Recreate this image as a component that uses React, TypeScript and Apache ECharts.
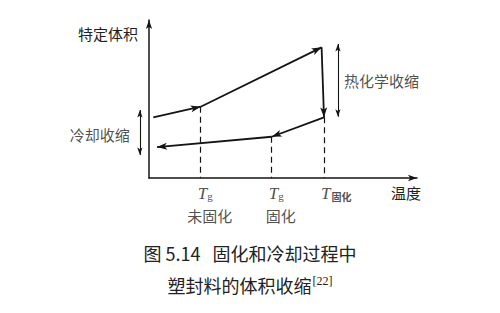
import React, { useEffect, useRef } from "react";
import * as echarts from "echarts";

// Process path (arbitrary units: temperature 0-100, specific volume 0-100)
const temperature = [1.6, 19.3, 64.4, 65.3, 45.8, 3.0];
const specificVolume = [38.4, 45.1, 82.7, 38.4, 26.1, 19.6];

// Transition temperatures (Tg uncured, Tg cured, T cure) and the volume where the dashed guide starts
const transitionTemps = [19.3, 45.8, 65.3];
const transitionVolumes = [45.1, 26.1, 38.4];
const transitionSymbols = ["{T|T}{g|g}", "{T|T}{g|g}", "{T|T}{c|固化}"];
const transitionStates = ["未固化", "固化", ""];

// Shrinkage annotations (double arrows)
const shrinkLabels = ["热化学收缩", "冷却收缩"];
const shrinkX = [70.5, -3.4];
const shrinkTop = [84.8, 43.0];
const shrinkBottom = [38.8, 14.6];
const shrinkLabelY = [62.0, 27.8];

const axisNames = ["温度", "特定体积"];
const captionLine1 = "图 5.14   固化和冷却过程中";
const captionLine2 = "塑封料的体积收缩";
const captionRef = "[22]";

const INK = "#141414";
const TXT = "#222222";
const CJK = "'Noto Sans CJK SC', 'Noto Sans', sans-serif";
const SERIF = "'Liberation Serif', 'DejaVu Serif', serif";
// arrow whose tip sits at the symbol centre
const ARROW = "path://M0,0 M20,20 M10,10 L13.5,20 L10,17.5 L6.5,20 Z";

function buildOption(): any {
  const segments = [];
  for (let i = 0; i < temperature.length - 1; i++) {
    segments.push({
      coords: [
        [temperature[i], specificVolume[i]],
        [temperature[i + 1], specificVolume[i + 1]],
      ],
    });
  }
  const guides = transitionTemps.map((t, i) => ({
    coords: [
      [t, transitionVolumes[i]],
      [t, 0],
    ],
  }));
  const shrinkArrows = shrinkX.map((x, i) => ({
    coords: [
      [x, shrinkTop[i]],
      [x, shrinkBottom[i]],
    ],
  }));

  return {
    animation: false,
    backgroundColor: "#ffffff",
    title: {
      text: `{a|${captionLine1}}\n{a|${captionLine2}}{s|${captionRef}}`,
      left: "center",
      top: 237,
      padding: 0,
      textStyle: {
        fontWeight: "normal",
        rich: {
          a: {
            fontSize: 18,
            fontFamily: CJK,
            fontWeight: "normal",
            color: TXT,
            lineHeight: 32,
          },
          s: {
            fontSize: 12,
            fontFamily: SERIF,
            fontWeight: "normal",
            color: TXT,
            lineHeight: 12,
            padding: [0, 0, 8, 1],
          },
        },
      },
    },
    grid: { left: 149, right: 83, top: 20, bottom: 135, containLabel: false },
    xAxis: {
      type: "value",
      min: 0,
      max: 100,
      name: axisNames[0],
      nameLocation: "end",
      nameGap: 4,
      nameTextStyle: {
        fontSize: 15,
        fontFamily: CJK,
        color: TXT,
        align: "right",
        verticalAlign: "top",
        padding: [7, 0, 0, 0],
      },
      axisLine: {
        lineStyle: { color: INK, width: 1.5 },
        symbol: ["none", ARROW],
        symbolSize: [18, 18],
      },
      axisTick: { show: false },
      axisLabel: { show: false },
      splitLine: { show: false },
    },
    yAxis: {
      type: "value",
      min: 0,
      max: 100,
      name: axisNames[1],
      nameLocation: "end",
      nameGap: -13,
      nameTextStyle: {
        fontSize: 15,
        fontFamily: CJK,
        color: TXT,
        align: "right",
        verticalAlign: "middle",
        padding: [0, 11, 0, 0],
      },
      axisLine: {
        lineStyle: { color: INK, width: 1.5 },
        symbol: ["none", ARROW],
        symbolSize: [18, 18],
      },
      axisTick: { show: false },
      axisLabel: { show: false },
      splitLine: { show: false },
    },
    series: [
      {
        type: "lines",
        name: "guides",
        coordinateSystem: "cartesian2d",
        clip: false,
        symbol: ["none", "none"],
        lineStyle: { color: INK, width: 1.2, type: [6, 4], opacity: 1 },
        data: guides,
        z: 2,
      },
      {
        type: "lines",
        name: "process",
        coordinateSystem: "cartesian2d",
        clip: false,
        symbol: ["none", ARROW],
        symbolSize: 20,
        lineStyle: { color: INK, width: 1.8, opacity: 1 },
        data: segments,
        z: 3,
      },
      {
        type: "lines",
        name: "shrink",
        coordinateSystem: "cartesian2d",
        clip: false,
        symbol: [ARROW, ARROW],
        symbolSize: 15,
        lineStyle: { color: INK, width: 1.1, opacity: 1 },
        data: shrinkArrows,
        z: 3,
      },
      {
        type: "scatter",
        name: "shrinkLabels",
        clip: false,
        symbolSize: 0,
        silent: true,
        data: shrinkLabels.map((s, i) => ({
          value: [shrinkX[i], shrinkLabelY[i]],
          name: s,
          label: {
            position: i === 0 ? "right" : "left",
            distance: i === 0 ? 6 : 10,
          },
        })),
        label: {
          show: true,
          formatter: (p: any) => p.name,
          fontSize: 15,
          fontFamily: CJK,
          color: TXT,
        },
      },
      {
        type: "scatter",
        name: "tickSymbols",
        clip: false,
        symbolSize: 0,
        silent: true,
        data: transitionTemps.map((t, i) => ({
          value: [t, 0],
          name: transitionSymbols[i],
        })),
        label: {
          show: true,
          position: "bottom",
          distance: 6,
          align: "left",
          offset: [-3, 0],
          formatter: (p: any) => p.name,
          rich: {
            T: {
              fontSize: 17,
              fontFamily: SERIF,
              fontStyle: "italic",
              color: TXT,
              lineHeight: 18,
            },
            g: {
              fontSize: 11,
              fontFamily: SERIF,
              color: TXT,
              lineHeight: 12,
              padding: [6, 0, 0, 0],
            },
            c: {
              fontSize: 10,
              fontFamily: CJK,
              fontWeight: "bold",
              color: TXT,
              lineHeight: 12,
              padding: [6, 0, 0, 1],
            },
          },
        },
      },
      {
        type: "scatter",
        name: "tickStates",
        clip: false,
        symbolSize: 0,
        silent: true,
        data: transitionTemps.map((t, i) => ({
          value: [t, 0],
          name: transitionStates[i],
        })),
        label: {
          show: true,
          position: "bottom",
          distance: 29,
          offset: [9, 0],
          formatter: (p: any) => p.name,
          fontSize: 15,
          fontFamily: CJK,
          color: TXT,
          lineHeight: 16,
        },
      },
    ],
  };
}

export default function App() {
  const ref = useRef<HTMLDivElement>(null);
  useEffect(() => {
    if (!ref.current) return;
    const chart = echarts.init(ref.current, null, { renderer: "svg" });
    chart.setOption(buildOption());
    return () => chart.dispose();
  }, []);
  return (
    <div
      ref={ref}
      style={{ position: "absolute", left: 0, top: 0, width: 500, height: 313 }}
    />
  );
}
